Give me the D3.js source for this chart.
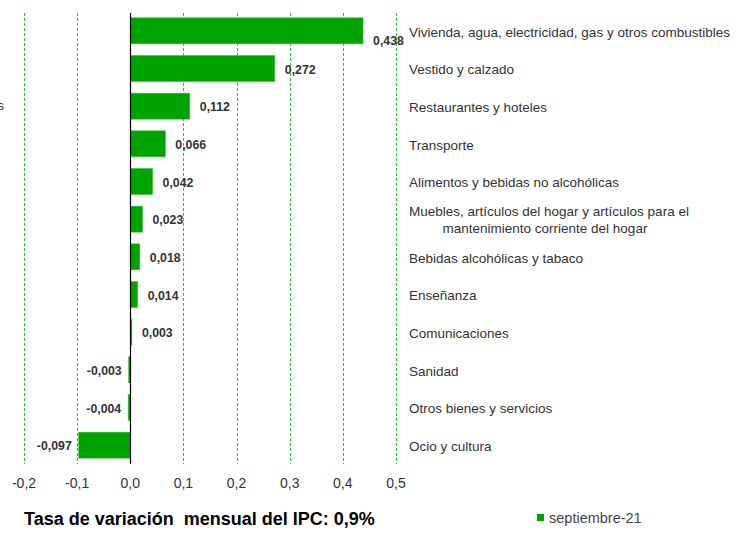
<!doctype html>
<html lang="es">
<head>
<meta charset="utf-8">
<script src="https://d3js.org/d3.v7.min.js"></script>
<style>
  body { margin: 0; background: #fff; }
  text { font-family: "Liberation Sans", Arial, sans-serif; }
</style>
</head>
<body>
<div id="chart"></div>
<script>
// categories, top to bottom
var categories = [
  "Vivienda, agua, electricidad, gas y otros combustibles",
  "Vestido y calzado",
  "Restaurantes y hoteles",
  "Transporte",
  "Alimentos y bebidas no alcohólicas",
  "Muebles, artículos del hogar y artículos para el|mantenimiento corriente del hogar",
  "Bebidas alcohólicas y tabaco",
  "Enseñanza",
  "Comunicaciones",
  "Sanidad",
  "Otros bienes y servicios",
  "Ocio y cultura"
];
var values = [0.438, 0.272, 0.112, 0.066, 0.042, 0.023, 0.018, 0.014, 0.003, -0.003, -0.004, -0.097];
var xTicks = [-0.2, -0.1, 0, 0.1, 0.2, 0.3, 0.4, 0.5];
var seriesName = "septiembre-21";
var title = "Tasa de variación  mensual del IPC: 0,9%";

var width = 747, height = 534;
var green = "#00a300";
var fmt = function (v) { return d3.format(".3f")(v).replace(".", ",").replace("−", "-"); };
var fmtTick = function (v) { return d3.format(".1f")(v).replace(".", ",").replace("−", "-"); };

var svg = d3.select("#chart").append("svg")
  .attr("width", width)
  .attr("height", height);

var x = d3.scaleLinear().domain([-0.2, 0.5]).range([24, 396]);
var y = d3.scaleBand().domain(categories).range([12, 464]).paddingInner(0.31).paddingOuter(0.155);

// gridlines
svg.append("g").selectAll("line")
  .data(xTicks.filter(function (d) { return d !== 0; }))
  .join("line")
  .attr("x1", function (d) { return Math.round(x(d)) + 0.5; })
  .attr("x2", function (d) { return Math.round(x(d)) + 0.5; })
  .attr("y1", 13).attr("y2", 464)
  .attr("stroke", "#2fbf2f")
  .attr("stroke-width", 1)
  .attr("stroke-dasharray", "3,2");

// bars
svg.append("g").selectAll("rect")
  .data(values)
  .join("rect")
  .attr("x", function (d) { return x(Math.min(0, d)); })
  .attr("y", function (d, i) { return y(categories[i]); })
  .attr("width", function (d) { return Math.max(1, Math.abs(x(d) - x(0))); })
  .attr("height", y.bandwidth())
  .attr("fill", green)
  .attr("stroke", "#3cc03c")
  .attr("stroke-width", 0.6);

// zero axis
svg.append("line")
  .attr("x1", Math.round(x(0)) + 0.5).attr("x2", Math.round(x(0)) + 0.5)
  .attr("y1", 13).attr("y2", 464)
  .attr("stroke", "#000").attr("stroke-width", 1.2);

// value labels
svg.append("g").selectAll("text")
  .data(values)
  .join("text")
  .attr("x", function (d) { return d >= 0 ? x(d) + 10 : x(d) - 7; })
  .attr("y", function (d, i) { return y(categories[i]) + y.bandwidth() / 2 + (i === 0 ? 10 : 1); })
  .attr("dy", "0.35em")
  .attr("text-anchor", function (d) { return d >= 0 ? "start" : "end"; })
  .attr("font-size", 12.3)
  .attr("font-weight", "bold")
  .attr("fill", "#333")
  .text(function (d) { return fmt(d); });

// category labels
var cat = svg.append("g").selectAll("text")
  .data(categories)
  .join("text")
  .attr("font-size", 13.5)
  .attr("fill", "#333");
cat.each(function (c) {
  var t = d3.select(this);
  var lines = c.split("|");
  var cy = y(c) + y.bandwidth() / 2;
  if (lines.length === 1) {
    t.attr("x", 409).attr("y", cy + 1).attr("dy", "0.35em").text(c);
  } else {
    var first = t.append("tspan").attr("x", 409).attr("y", cy - 7.5).attr("dy", "0.35em").text(lines[0]);
    var w = first.node().getComputedTextLength();
    t.append("tspan").attr("x", 409 + w / 2 - 4).attr("y", cy + 9.5).attr("dy", "0.35em")
      .attr("text-anchor", "middle").text(lines[1]);
  }
});

// clipped fragment of an outside label
svg.append("text")
  .attr("x", 4).attr("y", 110)
  .attr("text-anchor", "end")
  .attr("font-size", 13.5)
  .attr("fill", "#333")
  .text("s");

// x axis tick labels
svg.append("g").selectAll("text")
  .data(xTicks)
  .join("text")
  .attr("x", function (d) { return x(d); })
  .attr("y", 483)
  .attr("dy", "0.35em")
  .attr("text-anchor", "middle")
  .attr("font-size", 14)
  .attr("fill", "#333")
  .text(function (d) { return fmtTick(d); });

// title
svg.append("text")
  .attr("x", 24).attr("y", 519)
  .attr("dy", "0.35em")
  .attr("font-size", 18)
  .attr("font-weight", "bold")
  .attr("fill", "#000")
  .style("white-space", "pre")
  .text(title);

// legend
svg.append("rect")
  .attr("x", 537).attr("y", 514).attr("width", 7).attr("height", 7)
  .attr("fill", green);
svg.append("text")
  .attr("x", 549).attr("y", 518)
  .attr("dy", "0.35em")
  .attr("font-size", 14.5)
  .attr("fill", "#444")
  .text(seriesName);
</script>
</body>
</html>
